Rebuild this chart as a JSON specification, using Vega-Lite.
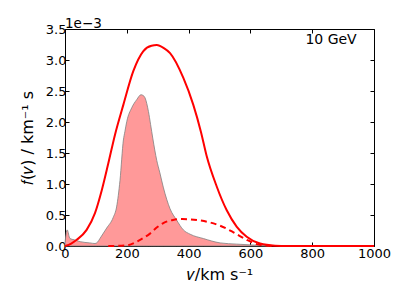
{
  "$schema": "https://vega.github.io/schema/vega-lite/v6.json",
  "width": 309,
  "height": 217,
  "autosize": {"type": "none"},
  "padding": {"left": 65, "top": 29, "right": 33, "bottom": 59},
  "background": "white",
  "config": {
    "view": {"stroke": "black", "strokeWidth": 1},
    "font": "DejaVu Sans",
    "axis": {
      "domain": false,
      "grid": false,
      "tickColor": "black",
      "tickSize": -4,
      "tickWidth": 1,
      "labelFont": "DejaVu Sans",
      "labelFontSize": 13,
      "labelColor": "black",
      "labelPadding": 3,
      "labelOverlap": false,
      "labelBound": false,
      "labelFlush": false,
      "titleFont": "DejaVu Sans",
      "titleFontSize": 16,
      "titleFontWeight": "normal",
      "titleColor": "black"
    }
  },
  "title": {
    "text": "1e−3",
    "anchor": "start",
    "frame": "group",
    "fontSize": 13.5,
    "fontWeight": "normal",
    "font": "DejaVu Sans",
    "color": "black",
    "offset": -7
  },
  "datasets": {
    "fill": [
      {"v": 0, "f": 0.05}, {"v": 7, "f": 0.26}, {"v": 16, "f": 0.12}, {"v": 30, "f": 0.1},
      {"v": 49, "f": 0.07}, {"v": 80, "f": 0.05}, {"v": 97, "f": 0.04}, {"v": 105, "f": 0.06},
      {"v": 113, "f": 0.12}, {"v": 135, "f": 0.29}, {"v": 156, "f": 0.46}, {"v": 167, "f": 0.63},
      {"v": 178, "f": 1.06}, {"v": 189, "f": 1.71}, {"v": 194, "f": 1.85}, {"v": 200, "f": 2.01},
      {"v": 216, "f": 2.23}, {"v": 232, "f": 2.36}, {"v": 246, "f": 2.44}, {"v": 252, "f": 2.43},
      {"v": 259, "f": 2.39}, {"v": 270, "f": 2.17}, {"v": 277, "f": 1.96}, {"v": 284, "f": 1.74},
      {"v": 297, "f": 1.38}, {"v": 307, "f": 1.18}, {"v": 318, "f": 0.95}, {"v": 340, "f": 0.6},
      {"v": 361, "f": 0.42}, {"v": 383, "f": 0.26}, {"v": 405, "f": 0.19}, {"v": 448, "f": 0.12},
      {"v": 502, "f": 0.05}, {"v": 556, "f": 0.03}, {"v": 631, "f": 0.01}, {"v": 660, "f": 0}
    ],
    "solid": [
      {"v": 0, "f": 0}, {"v": 20, "f": 0.04}, {"v": 38, "f": 0.1}, {"v": 70, "f": 0.26},
      {"v": 97, "f": 0.53}, {"v": 119, "f": 0.9}, {"v": 140, "f": 1.33}, {"v": 162, "f": 1.8},
      {"v": 189, "f": 2.28}, {"v": 221, "f": 2.82}, {"v": 253, "f": 3.14}, {"v": 280, "f": 3.23},
      {"v": 297, "f": 3.24}, {"v": 320, "f": 3.19}, {"v": 340, "f": 3.11}, {"v": 383, "f": 2.71},
      {"v": 415, "f": 2.28}, {"v": 440, "f": 1.84}, {"v": 458, "f": 1.46}, {"v": 491, "f": 0.96},
      {"v": 523, "f": 0.58}, {"v": 556, "f": 0.31}, {"v": 588, "f": 0.15}, {"v": 631, "f": 0.04},
      {"v": 680, "f": 0.005}, {"v": 720, "f": 0}, {"v": 1000, "f": 0}
    ],
    "dashed": [
      {"v": 140, "f": 0}, {"v": 200, "f": 0.01}, {"v": 243, "f": 0.1}, {"v": 275, "f": 0.2},
      {"v": 300, "f": 0.31}, {"v": 318, "f": 0.37}, {"v": 350, "f": 0.42}, {"v": 380, "f": 0.435},
      {"v": 405, "f": 0.43}, {"v": 440, "f": 0.41}, {"v": 469, "f": 0.38}, {"v": 500, "f": 0.33},
      {"v": 523, "f": 0.28}, {"v": 545, "f": 0.22}, {"v": 566, "f": 0.16}, {"v": 588, "f": 0.1},
      {"v": 609, "f": 0.05}, {"v": 640, "f": 0.01}, {"v": 680, "f": 0}
    ]
  },
  "layer": [
    {
      "data": {"name": "fill"},
      "mark": {"type": "area", "interpolate": "monotone", "color": "#ff9999", "opacity": 1, "stroke": "#808080", "strokeWidth": 0.8},
      "encoding": {
        "x": {"field": "v", "type": "quantitative", "scale": {"domain": [0, 1000], "nice": false},
              "axis": {"orient": "bottom", "values": [0, 200, 400, 600, 800, 1000], "format": "d", "labelPadding": 5, "title": "𝑣/km s⁻¹", "titlePadding": 6}},
        "y": {"field": "f", "type": "quantitative", "scale": {"domain": [0, 3.5], "nice": false},
              "axis": {"orient": "left", "values": [0, 0.5, 1, 1.5, 2, 2.5, 3, 3.5], "format": ".1f", "title": "𝑓(𝑣) / km⁻¹ s", "titlePadding": 10}}
      }
    },
    {
      "data": {"name": "solid"},
      "mark": {"type": "line", "interpolate": "monotone", "color": "#ff0000", "strokeWidth": 2},
      "encoding": {
        "x": {"field": "v", "type": "quantitative", "scale": {"domain": [0, 1000], "nice": false},
              "axis": {"orient": "top", "values": [0, 200, 400, 600, 800, 1000], "labels": false, "title": null}},
        "y": {"field": "f", "type": "quantitative", "scale": {"domain": [0, 3.5], "nice": false},
              "axis": {"orient": "right", "values": [0, 0.5, 1, 1.5, 2, 2.5, 3, 3.5], "labels": false, "title": null}}
      }
    },
    {
      "data": {"name": "dashed"},
      "mark": {"type": "line", "interpolate": "monotone", "color": "#ff0000", "strokeWidth": 2, "strokeDash": [6, 4]},
      "encoding": {
        "x": {"field": "v", "type": "quantitative", "scale": {"domain": [0, 1000], "nice": false}, "axis": null},
        "y": {"field": "f", "type": "quantitative", "scale": {"domain": [0, 3.5], "nice": false}, "axis": null}
      }
    },
    {
      "data": {"values": [{}]},
      "mark": {"type": "text", "fontSize": 14, "font": "DejaVu Sans", "color": "black", "align": "center", "baseline": "middle"},
      "encoding": {
        "x": {"datum": 861, "type": "quantitative", "scale": {"domain": [0, 1000], "nice": false}, "axis": null},
        "y": {"datum": 3.32, "type": "quantitative", "scale": {"domain": [0, 3.5], "nice": false}, "axis": null},
        "text": {"value": "10 GeV"}
      }
    }
  ],
  "resolve": {"axis": {"x": "independent", "y": "independent"}}
}
